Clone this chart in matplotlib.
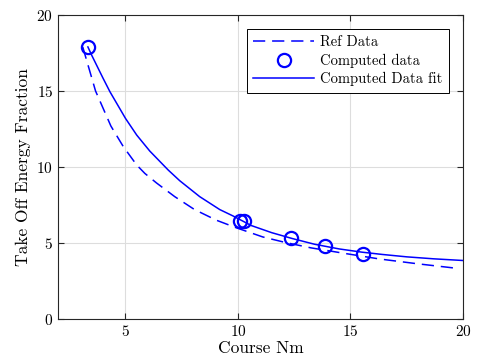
import matplotlib
matplotlib.use("Agg")
import matplotlib.pyplot as plt

# reference curve (dashed)
ref_x = [3.1, 3.67, 4.35, 4.9, 5.5, 5.86, 6.38, 7.19, 8.07, 9.04, 9.93, 11.1,
         12.15, 13.25, 14.81, 16.29, 18.0, 19.76]
ref_y = [17.9, 15.0, 12.7, 11.35, 10.13, 9.58, 8.95, 8.05, 7.2, 6.5, 6.0, 5.4,
         5.02, 4.68, 4.3, 3.95, 3.63, 3.33]

# computed points (circles)
comp_x = [3.33, 10.07, 10.25, 12.37, 13.87, 15.56]
comp_y = [17.9, 6.45, 6.45, 5.36, 4.8, 4.29]

# fitted curve (solid)
fit_x = [3.33, 3.5, 4.0, 4.31, 5.0, 5.5, 6.08, 6.9, 7.41, 8.3, 9.19, 9.78,
         10.59, 11.5, 12.4, 13.4, 14.5, 15.5, 16.4, 17.5, 18.7, 20.0]
fit_y = [17.9, 17.35, 15.85, 14.95, 13.2, 12.1, 11.05, 9.8, 9.1, 8.05, 7.2, 6.78,
         6.15, 5.68, 5.3, 4.92, 4.61, 4.4, 4.25, 4.09, 3.96, 3.85]

plt.rcParams["font.family"] = "serif"
plt.rcParams["font.serif"] = ["cmr10"]
plt.rcParams["mathtext.fontset"] = "cm"
plt.rcParams["axes.formatter.use_mathtext"] = True

fig = plt.figure(figsize=(4.78, 3.61), dpi=100)
ax = fig.add_axes([0.1213, 0.1163, 0.8473, 0.8421])

ax.plot(ref_x, ref_y, color="blue", lw=1.1, dashes=(8, 4.5), label="Ref Data")
ax.plot(comp_x, comp_y, "o", color="blue", mfc="none", ms=9.5, mew=1.6,
        label="Computed data")
ax.plot(fit_x, fit_y, color="blue", lw=1.1, label="Computed Data fit")

ax.set_xlim(2, 20)
ax.set_ylim(0, 20)
ax.set_xticks([5, 10, 15, 20])
ax.set_yticks([0, 5, 10, 15, 20])
ax.grid(True, color="#dddddd", lw=0.8)
ax.set_axisbelow(True)
ax.tick_params(direction="in", top=True, right=True, labelsize=11,
               color="#262626", length=4)
for s in ax.spines.values():
    s.set_color("#262626")
    s.set_linewidth(0.8)

ax.set_xlabel("Course Nm", fontsize=12.5, labelpad=1)
ax.set_ylabel("Take Off Energy Fraction", fontsize=12.5, labelpad=4)

leg = ax.legend(loc="upper right", fontsize=10.5, fancybox=False,
                framealpha=1, edgecolor="black", handlelength=4.2,
                borderaxespad=0.95, borderpad=0.45, labelspacing=0.3,
                handletextpad=0.4)
leg.get_frame().set_linewidth(0.7)

fig.savefig("out.png", dpi=100)
